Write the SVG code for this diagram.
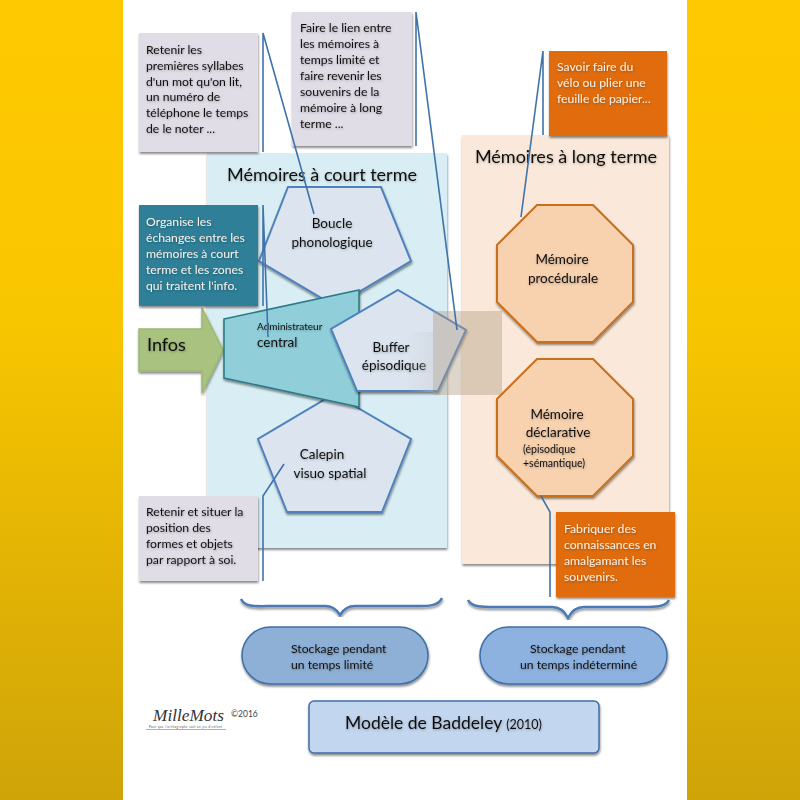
<svg xmlns="http://www.w3.org/2000/svg" width="800" height="800" viewBox="0 0 800 800">
<defs>
<linearGradient id="gold" x1="0" y1="0" x2="0" y2="1"><stop offset="0" stop-color="#ffc900"/><stop offset="0.4" stop-color="#f8c600"/><stop offset="0.7" stop-color="#e3b405"/><stop offset="1" stop-color="#cfa408"/></linearGradient>
<linearGradient id="veil2" x1="0" y1="0" x2="1" y2="0"><stop offset="0" stop-color="#c9cdd0" stop-opacity="0"/><stop offset="1" stop-color="#c9cdd0" stop-opacity="0.4"/></linearGradient>
<filter id="sh" x="-10%" y="-10%" width="120%" height="120%"><feDropShadow dx="0.5" dy="2" stdDeviation="1" flood-color="#000" flood-opacity="0.45"/></filter>
<filter id="ts" x="-5%" y="-20%" width="110%" height="150%"><feGaussianBlur stdDeviation="0.25" result="b"/><feDropShadow in="b" dx="0.5" dy="1" stdDeviation="0.9" flood-color="#000" flood-opacity="0.3"/></filter>
</defs>
<style>
text{font-family:"Lato","Open Sans",sans-serif;fill:#111;filter:url(#ts)}
.s{font-size:12.2px}
.w{fill:#f6efe6}
.n{font-size:13.5px}
.h{font-size:18px}
.c{text-anchor:middle}
.line{fill:none;stroke:#3f73ab;stroke-width:1.6}
.grey{fill:#e0dde7;filter:url(#sh)}
.orange{fill:#e06c0a;filter:url(#sh)}
.penta{fill:#dbe4ef;stroke:#4f81bd;stroke-width:2;filter:url(#sh)}
.octa{fill:#f8d2af;stroke:#c8701f;stroke-width:2;filter:url(#sh)}
.pill{stroke:#3f6fa8;stroke-width:1.5;filter:url(#sh)}
.brace{fill:none;stroke:#4a7ab5;stroke-width:2.5;filter:url(#sh)}
</style>
<rect id="background" width="800" height="800" fill="url(#gold)"/>
<rect id="page" x="123" y="0" width="564" height="800" fill="#fff"/>

<g id="panel-court"><rect x="207" y="153" width="240" height="395" fill="#d9eef4" filter="url(#sh)"/><text class="h c" x="322" y="181">Mémoires à court terme</text></g>
<g id="panel-long"><rect x="462" y="135" width="207" height="429" fill="#fae9da" filter="url(#sh)"/><text class="h c" x="566" y="163">Mémoires à long terme</text></g>

<g id="boucle"><polygon class="penta" points="288,187 381,187 411,261 335,306 259,261"/><text class="n c" x="332" y="228">Boucle</text><text class="n c" x="332" y="247">phonologique</text></g>
<g id="calepin"><polygon class="penta" points="334,394 411,439 382,512 287,512 258,439"/><text class="n c" x="322" y="459">Calepin</text><text class="n c" x="330" y="478">visuo spatial</text></g>
<g id="infos"><polygon points="139,329 202,329 202,308 223,350 202,393 202,371 139,371" fill="#a9c27f" stroke="#9bb871" stroke-width="1.5" filter="url(#sh)"/><text x="147" y="351" font-size="18">Infos</text></g>
<g id="administrateur"><polygon points="224,319 359,290 359,407 224,378" fill="#90cfda" stroke="#2c7c88" stroke-width="1.6" filter="url(#sh)"/><text x="257" y="330" font-size="10">Administrateur</text><text x="257" y="347" font-size="13.5">central</text></g>
<g id="buffer"><polygon class="penta" points="398,290 466,330 438,391 357,391 331,329"/><text class="n c" x="391" y="352">Buffer</text><text class="n c" x="394" y="370">épisodique</text></g>
<g id="voile"><rect x="408" y="332" width="25" height="60" fill="url(#veil2)"/><rect x="433" y="311" width="69" height="84" fill="#b09a84" fill-opacity="0.42"/></g>

<g id="procedurale"><polygon class="octa" points="537,205 593,205 633,245 633,302 593,342 537,342 497,302 497,245"/><text class="n c" x="562" y="264">Mémoire</text><text class="n c" x="563" y="283">procédurale</text></g>
<g id="declarative"><polygon class="octa" points="537,359 593,359 633,399 633,456 593,496 537,496 497,456 497,399"/><text class="n c" x="557" y="419">Mémoire</text><text class="n c" x="558" y="437">déclarative</text><text x="523" y="453" font-size="10.5">(épisodique</text><text x="523" y="467" font-size="10.5">+sémantique)</text></g>

<g id="note-retenir"><rect class="grey" x="139" y="33" width="119" height="119"/><text class="s" x="146" y="54">Retenir les</text><text class="s" x="146" y="70">premières syllabes</text><text class="s" x="146" y="86">d'un mot qu'on lit,</text><text class="s" x="146" y="101">un numéro de</text><text class="s" x="146" y="117">téléphone le temps</text><text class="s" x="146" y="133">de le noter ...</text></g>
<g id="note-lien"><rect class="grey" x="292" y="12" width="120" height="134"/><text class="s" x="300" y="32">Faire le lien entre</text><text class="s" x="300" y="48">les mémoires à</text><text class="s" x="300" y="64">temps limité et</text><text class="s" x="300" y="80">faire revenir les</text><text class="s" x="300" y="96">souvenirs de la</text><text class="s" x="300" y="112">mémoire à long</text><text class="s" x="300" y="128">terme ...</text></g>
<g id="note-organise"><rect x="139" y="205" width="119" height="101" fill="#2d7f97" filter="url(#sh)"/><text class="s w" x="146" y="226">Organise les</text><text class="s w" x="146" y="242">échanges entre les</text><text class="s w" x="146" y="258">mémoires à court</text><text class="s w" x="146" y="274">terme et les zones</text><text class="s w" x="146" y="290">qui traitent l'info.</text></g>
<g id="note-situer"><rect class="grey" x="139" y="496" width="119" height="85"/><text class="s" x="146" y="516">Retenir et situer la</text><text class="s" x="146" y="532">position des</text><text class="s" x="146" y="548">formes et objets</text><text class="s" x="146" y="564">par rapport à soi.</text></g>
<g id="note-savoir"><rect class="orange" x="549" y="51" width="118" height="85"/><text class="s w" x="557" y="71">Savoir faire du</text><text class="s w" x="557" y="87">vélo ou plier une</text><text class="s w" x="557" y="103">feuille de papier...</text></g>
<g id="note-fabriquer"><rect class="orange" x="556" y="512" width="119" height="85"/><text class="s w" x="564" y="533">Fabriquer des</text><text class="s w" x="564" y="549">connaissances en</text><text class="s w" x="564" y="565">amalgamant les</text><text class="s w" x="564" y="581">souvenirs.</text></g>

<g id="connectors">
<path class="line" d="M263 152V33L314 214"/>
<path class="line" d="M416 146V12L457 330"/>
<path class="line" d="M263 306V205L268 337"/>
<path class="line" d="M263 581V496L284 464"/>
<path class="line" d="M543 135V51L521 217"/>
<path class="line" d="M550 597V512L541 496"/>
</g>

<g id="accolades">
<path class="brace" d="M241 599C245 608 258 606 275 606H325C333 606 337 610 340 615C343 610 347 606 355 606H410C426 606 438 607 442 598"/>
<path class="brace" d="M468 600C472 608 485 607 502 607H552C560 607 565 612 568 618C571 612 576 607 584 607H636C652 607 665 608 669 600"/>
</g>

<g id="stockage-limite"><rect class="pill" x="242" y="627" width="186" height="57" rx="28.5" fill="#8fb0d6"/><text class="s" x="291" y="653">Stockage pendant</text><text class="s" x="291" y="669">un temps limité</text></g>
<g id="stockage-indetermine"><rect class="pill" x="480" y="627" width="187" height="57" rx="28.5" fill="#8db2e0"/><text class="s" x="530" y="653">Stockage pendant</text><text class="s" x="520" y="669">un temps indéterminé</text></g>
<g id="titre"><rect x="309" y="701" width="290" height="52" rx="5" fill="#c3d6ef" stroke="#3f6fa8" stroke-width="1.5" filter="url(#sh)"/><text x="345" y="729" font-size="17.5">Modèle de Baddeley <tspan font-size="12.5">(2010)</tspan></text></g>
<g id="logo"><text x="153" y="720.500" font-size="17" textLength="71" lengthAdjust="spacingAndGlyphs" style="font-family:'Liberation Serif',serif;font-style:italic;fill:#333;filter:none">MilleMots</text><text x="149" y="727.500" font-size="2.800" textLength="73" style="filter:none;fill:#444">Pour que l'orthographe soit un jeu d'enfant</text><line x1="146" y1="729.500" x2="226" y2="729.500" stroke="#e08a90" stroke-width="0.9"/><text x="231" y="717" font-size="8.500" style="filter:none;fill:#444">©2016</text></g>
</svg>
